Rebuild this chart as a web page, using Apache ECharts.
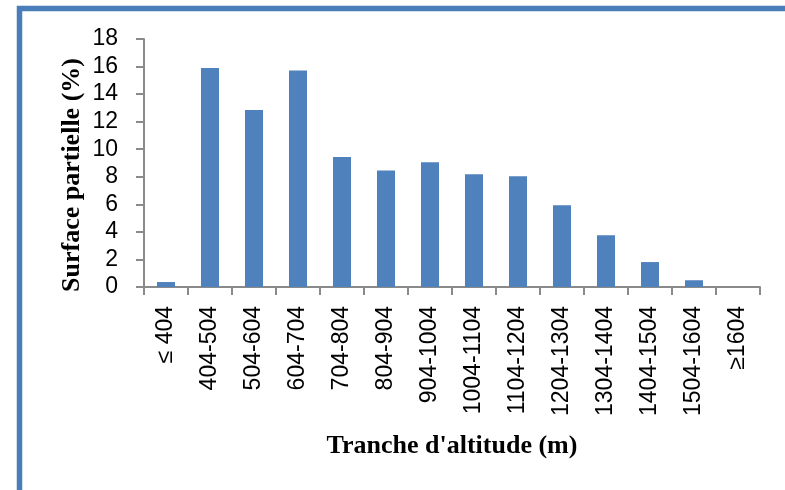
<!DOCTYPE html>
<html>
<head>
<meta charset="utf-8">
<script src="https://cdn.jsdelivr.net/npm/echarts@6/dist/echarts.min.js"></script>
<style>
html,body{margin:0;padding:0;background:#fff;}
#chart{width:785px;height:490px;}
</style>
</head>
<body>
<div id="chart"></div>
<script>
const categories = ['≤ 404','404-504','504-604','604-704','704-804','804-904','904-1004','1004-1104','1104-1204','1204-1304','1304-1404','1404-1504','1504-1604','≥1604'];
const surfaceValues = [0.36, 15.9, 12.85, 15.72, 9.43, 8.45, 9.05, 8.18, 8.03, 5.93, 3.75, 1.81, 0.49, 0];
const yTickLabels = ['0','2','4','6','8','10','12','14','16','18'];
const xTitle = "Tranche d'altitude (m)";
const yTitle = 'Surface partielle (%)';

const chart = echarts.init(document.getElementById('chart'), null, {renderer: 'canvas'});
const axisGray = '#8a8a8a';
chart.setOption({
  animation: false,
  backgroundColor: '#ffffff',
  grid: {left: 144, right: 25, top: 39, bottom: 203, containLabel: false},
  xAxis: {
    type: 'category',
    data: categories,
    boundaryGap: true,
    axisLine: {lineStyle: {color: axisGray, width: 2}},
    axisTick: {show: true, alignWithLabel: false, length: 8, lineStyle: {color: axisGray, width: 2}},
    axisLabel: {rotate: 90, margin: 19, interval: 0, fontFamily: 'Liberation Sans', fontSize: 23, color: '#000'},
    name: xTitle,
    nameLocation: 'middle',
    nameGap: 146,
    nameTextStyle: {fontFamily: 'Liberation Serif', fontWeight: 'bold', fontSize: 26, color: '#000'}
  },
  yAxis: {
    type: 'value',
    min: 0, max: 18, interval: 2,
    splitLine: {show: false},
    axisLine: {show: true, lineStyle: {color: axisGray, width: 2}},
    axisTick: {show: true, length: 8, lineStyle: {color: axisGray, width: 2}},
    axisLabel: {margin: 26, fontFamily: 'Liberation Sans', fontSize: 23, color: '#000',
      formatter: function (v) { const i = Math.round(v / 2); return yTickLabels[i] !== undefined ? yTickLabels[i] : String(v); }}
  },
  series: [{
    type: 'bar',
    data: surfaceValues,
    barWidth: '41%',
    itemStyle: {color: '#4F81BD', borderWidth: 0}
  }],
  graphic: [
    {type: 'rect', shape: {x: 19.5, y: 8.5, width: 820, height: 520},
     style: {fill: 'none', stroke: '#4a7ebb', lineWidth: 5.5}, z: 100},
    {type: 'text', x: 72, y: 175, rotation: Math.PI / 2,
     style: {text: yTitle, fontFamily: 'Liberation Serif', fontWeight: 'bold', fontSize: 26, fill: '#000', align: 'center', verticalAlign: 'middle'}}
  ]
});
</script>
</body>
</html>
